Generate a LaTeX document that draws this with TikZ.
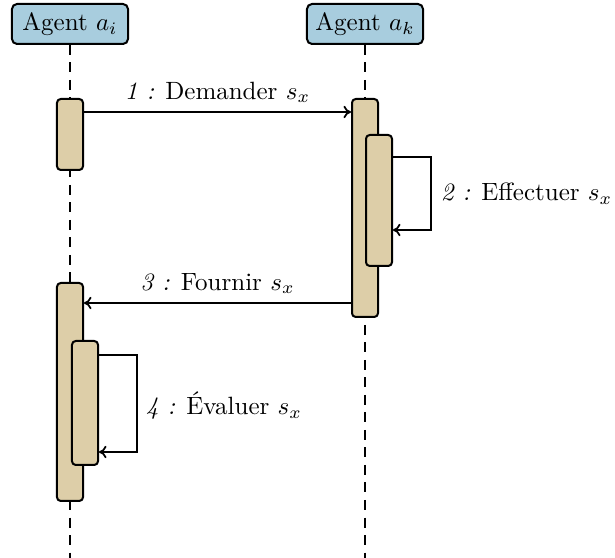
\documentclass[tikz,border=0pt]{standalone}
\usetikzlibrary{arrows.meta}
\definecolor{agentblue}{RGB}{168,205,222}
\definecolor{actbeige}{RGB}{221,206,168}
\tikzset{
  agentbox/.style={draw, line width=0.8pt, rounded corners=2pt, fill=agentblue, minimum width=46.4pt, minimum height=16pt, inner sep=0pt},
  actbox/.style={draw, line width=0.8pt, rounded corners=1.5pt, fill=actbeige, minimum width=10.4pt, inner sep=0pt},
  lifeline/.style={line width=0.8pt, dash pattern=on 4pt off 3pt},
  msg/.style={line width=0.7pt, -{To[length=3pt,width=5pt]}},
}
\begin{document}
\begin{tikzpicture}[x=0.4pt,y=-0.4pt]
\useasboundingbox (0,0) rectangle (615,558);
% agents
\node[agentbox] (ai) at (70,24) {Agent $a_i$};
\node[agentbox] (ak) at (365,24) {Agent $a_k$};
\coordinate (endi) at (70,558);
\coordinate (endk) at (365,558);
\draw[lifeline] (ai.south) -- (endi);
\draw[lifeline] (ak.south) -- (endk);
% activations
\node[actbox, minimum height=28.4pt] (a1) at (70,134.5) {};
\node[actbox, minimum height=87.2pt] (k1) at (365,208) {};
\node[actbox, minimum height=52.4pt] (k2) at (379,200.5) {};
\node[actbox, minimum height=87.2pt] (a2) at (70,392) {};
\node[actbox, minimum height=49.6pt] (a3) at (85,403) {};
% message 1
\coordinate (m1) at (0,112);
\draw[msg] (a1.east |- m1) -- node[above=0pt] {\textit{1 :} Demander $s_x$} (k1.west |- m1);
% message 2 (self)
\coordinate (m2a) at (431,157);
\coordinate (m2b) at (431,230);
\draw[msg] (k2.east |- m2a) -- (m2a) -- (m2b) -- (k2.east |- m2b);
\node[anchor=west] (l2) at (432,193.5) {\textit{2 :} Effectuer $s_x$};
% message 3
\coordinate (m3) at (0,303);
\draw[msg] (k1.west |- m3) -- node[above=0pt] {\textit{3 :} Fournir $s_x$} (a2.east |- m3);
% message 4 (self)
\coordinate (m4a) at (137,355);
\coordinate (m4b) at (137,452);
\draw[msg] (a3.east |- m4a) -- (m4a) -- (m4b) -- (a3.east |- m4b);
\node[anchor=west] (l4) at (137,406) {\textit{4 :} \'Evaluer $s_x$};
\end{tikzpicture}
\end{document}
